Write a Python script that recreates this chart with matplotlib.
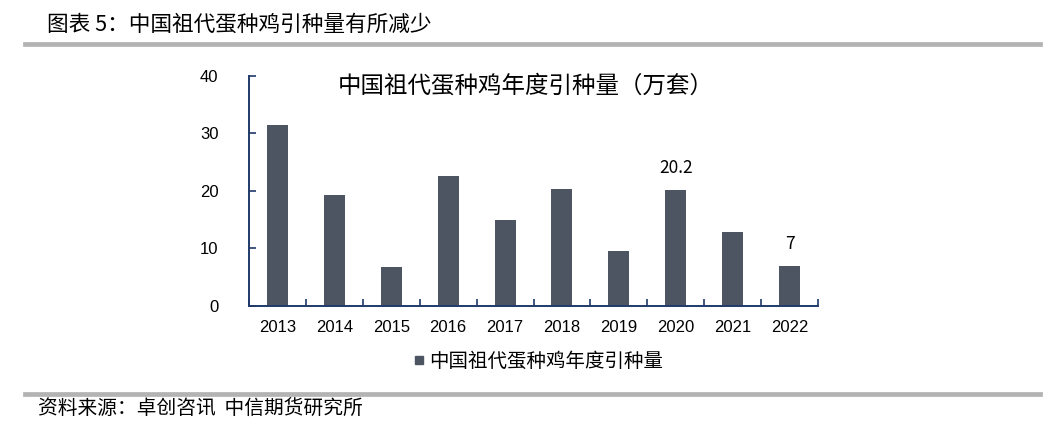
import numpy as np
import matplotlib.pyplot as plt
from matplotlib.lines import Line2D

plt.rcParams['font.family'] = ['Noto Sans CJK SC', 'DejaVu Sans']

years = ['2013', '2014', '2015', '2016', '2017', '2018', '2019', '2020', '2021', '2022']
values = [31.4, 19.3, 6.8, 22.6, 14.9, 20.4, 9.5, 20.2, 12.8, 7.0]
labelled = {'2020': '20.2', '2022': '7'}

bar_color = '#4d5562'
axis_color = '#1f3a6b'

fig = plt.figure(figsize=(10.59, 4.34), dpi=100)
ax = fig.add_axes([249/1059, 1-306/434, (818-249)/1059, (306-75.7)/434])

x = np.arange(len(years))
ax.bar(x, values, width=0.37, color=bar_color, zorder=2)
for i, y in enumerate(years):
    if y in labelled:
        ax.text(i, values[i] + 2.2, labelled[y], ha='center', va='bottom',
                fontsize=12.5, color='black')

ax.set_xlim(-0.5, len(years) - 0.5)
ax.set_ylim(0, 40)
ax.set_yticks([0, 10, 20, 30, 40])
ax.set_xticks(x)
ax.set_xticklabels(years, family=['Liberation Sans'])
ax.set_xticks(np.arange(-0.5, len(years), 1), minor=True)
ax.tick_params(axis='x', which='major', length=0, pad=10, labelsize=12)
ax.tick_params(axis='x', which='minor', direction='in', length=5, color=axis_color, width=1.2)
ax.tick_params(axis='y', direction='in', length=5, color=axis_color, width=1.2,
               pad=22, labelsize=12)
for lab in ax.get_yticklabels():
    lab.set_family('Liberation Sans')
for s in ['top', 'right']:
    ax.spines[s].set_visible(False)
for s in ['left', 'bottom']:
    ax.spines[s].set_color(axis_color)
    ax.spines[s].set_linewidth(1.4)

fig.text(526/1059, 1-86/434, '中国祖代蛋种鸡年度引种量（万套）', ha='center', va='center',
         fontsize=16.9, color='black')

handle = Line2D([], [], marker='s', linestyle='none', markersize=5.5, color=bar_color)
fig.legend([handle], ['中国祖代蛋种鸡年度引种量'], loc='center', frameon=False,
           bbox_to_anchor=(536/1059, 1-361/434), fontsize=14, handletextpad=0.0,
           handlelength=1.0)

fig.text(47/1059, 1-25/434, '图表 5：中国祖代蛋种鸡引种量有所减少', ha='left', va='center',
         fontsize=15.6, color='black')
fig.text(38/1059, 1-409/434, '资料来源：卓创咨讯  中信期货研究所', ha='left', va='center',
         fontsize=14.2, color='black')

for yp in [43.5, 393.5]:
    fig.add_artist(Line2D([25/1059, 1040/1059], [1-yp/434, 1-yp/434],
                          color='#b3b3b3', linewidth=3.4))

fig.savefig('out.png', dpi=100)
